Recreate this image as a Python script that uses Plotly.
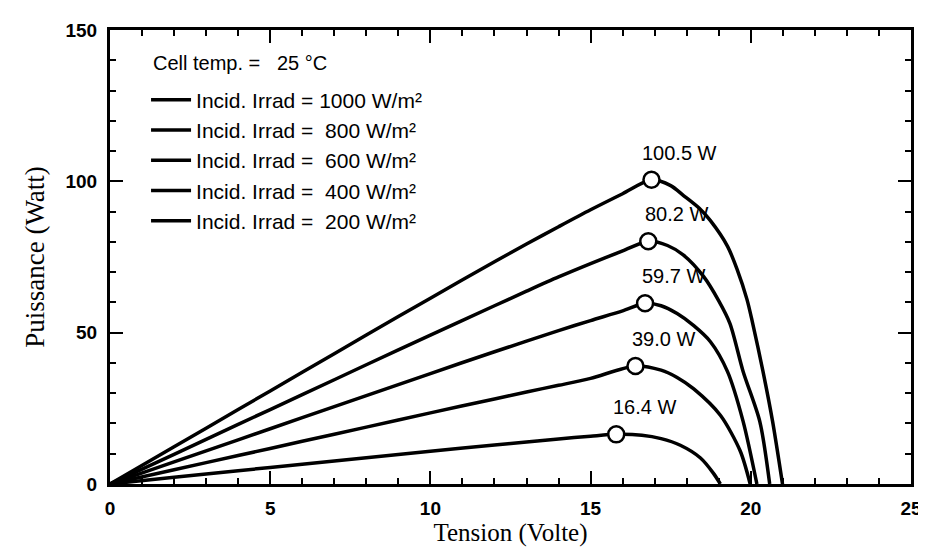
import plotly.graph_objects as go

# ---- data (Tension V, Puissance W) ----
irradiances = [1000, 800, 600, 400, 200]

v_1000 = [0, 2, 4, 6, 8, 10, 12, 13, 14, 15, 16, 16.9, 17.5, 17.9, 18.4, 18.74, 19.27, 19.57, 19.88, 20.04, 20.38, 20.68, 20.99]
p_1000 = [0, 12.3, 24.6, 36.9, 49.2, 61.4, 73.4, 79.3, 85.0, 90.6, 95.9, 100.5, 98.6, 95.3, 91.0, 87.0, 78.6, 71.0, 61.0, 54.0, 37.2, 20.7, 0]

v_800 = [0, 2, 4, 6, 8, 10, 12, 13, 14, 15, 16, 16.8, 17.4, 17.9, 18.53, 19.0, 19.35, 19.76, 20.28, 20.59]
p_800 = [0, 9.8, 19.7, 29.5, 39.4, 49.2, 58.9, 63.7, 68.4, 72.8, 77.0, 80.2, 78.8, 75.6, 68.5, 60.5, 53.0, 37.2, 20.7, 0]

v_600 = [0, 2, 4, 6, 8, 10, 12, 13, 14, 15, 16, 16.7, 17.2, 17.7, 18.22, 18.74, 19.27, 19.76, 20.19]
p_600 = [0, 7.3, 14.6, 21.9, 29.2, 36.5, 43.7, 47.2, 50.7, 54.0, 57.2, 59.7, 58.9, 56.3, 52.3, 47.0, 37.2, 20.7, 0]

v_400 = [0, 2, 4, 6, 8, 10, 12, 13, 14, 15, 16.4, 17.2, 17.7, 18.22, 19.05, 19.67, 19.98]
p_400 = [0, 4.7, 9.4, 14.1, 18.8, 23.5, 28.1, 30.4, 32.6, 34.9, 39.0, 37.6, 35.2, 31.4, 22.7, 10.9, 0]

v_200 = [0, 2, 4, 6, 8, 10, 12, 13, 14, 15, 15.8, 16.6, 17.2, 17.8, 18.43, 18.83, 19.05]
p_200 = [0, 2.2, 4.4, 6.5, 8.7, 10.8, 12.9, 13.9, 14.9, 15.8, 16.4, 16.1, 15.0, 12.8, 8.6, 3.6, 0]

peak_v = [16.9, 16.8, 16.7, 16.4, 15.8]
peak_p = [100.5, 80.2, 59.7, 39.0, 16.4]

legend_labels = [
    "Incid. Irrad = 1000 W/m²",
    "Incid. Irrad =  800 W/m²",
    "Incid. Irrad =  600 W/m²",
    "Incid. Irrad =  400 W/m²",
    "Incid. Irrad =  200 W/m²",
]
legend_title = "Cell temp. =   25 °C"

x_title = "Tension (Volte)"
y_title = "Puissance (Watt)"

curves_v = [v_1000, v_800, v_600, v_400, v_200]
curves_p = [p_1000, p_800, p_600, p_400, p_200]

SANS = "Liberation Sans, Arial, sans-serif"
SERIF = "Liberation Serif, Times New Roman, serif"

fig = go.Figure()

for i, (vv, pp) in enumerate(zip(curves_v, curves_p)):
    fig.add_trace(go.Scatter(
        x=vv, y=pp, mode="lines",
        name=legend_labels[i],
        legendgroup=str(i),
        line=dict(color="black", width=3.5, shape="spline", smoothing=0.8),
    ))

fig.add_trace(go.Scatter(
    x=peak_v, y=peak_p, mode="markers",
    showlegend=False,
    marker=dict(symbol="circle", size=16, color="white",
                line=dict(color="black", width=2.5)),
))

for v, p in zip(peak_v, peak_p):
    fig.add_annotation(
        x=v, y=p, text=f"{p:.1f} W", showarrow=False,
        xshift=28, yshift=27,
        font=dict(family=SANS, size=20, color="black"),
    )

# legend heading (cell temperature)
fig.add_annotation(
    xref="paper", yref="paper", x=0.051, y=0.928,
    xanchor="left", yanchor="middle", showarrow=False,
    text=legend_title,
    font=dict(family=SANS, size=20, color="black"),
)

axis_common = dict(
    showline=True, linewidth=3, linecolor="black", mirror="ticks",
    ticks="inside", ticklen=13, tickwidth=2, tickcolor="black",
    showgrid=False, zeroline=False,
    tickfont=dict(family=SANS, size=19, color="black", weight="bold"),
)

fig.update_xaxes(
    range=[0, 25], dtick=5, tick0=0,
    minor=dict(ticks="inside", ticklen=6, tickwidth=1.5, tickcolor="black", dtick=1),
    title=dict(text=x_title, font=dict(family=SERIF, size=25, color="black"), standoff=2),
    ticklabelstandoff=5,
    **axis_common,
)
fig.update_yaxes(
    range=[0, 150], dtick=50, tick0=0,
    minor=dict(ticks="inside", ticklen=6, tickwidth=1.5, tickcolor="black", dtick=10),
    title=dict(text=y_title, font=dict(family=SERIF, size=27, color="black"), standoff=14),
    ticklabelstandoff=6,
    **axis_common,
)

fig.update_layout(
    width=926, height=550,
    margin=dict(l=102, r=13, t=20, b=74),
    paper_bgcolor="white", plot_bgcolor="white",
    showlegend=True,
    legend=dict(
        x=0.045, y=0.891, xanchor="left", yanchor="top",
        bgcolor="rgba(0,0,0,0)", borderwidth=0,
        font=dict(family=SANS, size=21, color="black"),
        tracegroupgap=0,
        itemwidth=40,
    ),
)

fig.write_html("out.html")
